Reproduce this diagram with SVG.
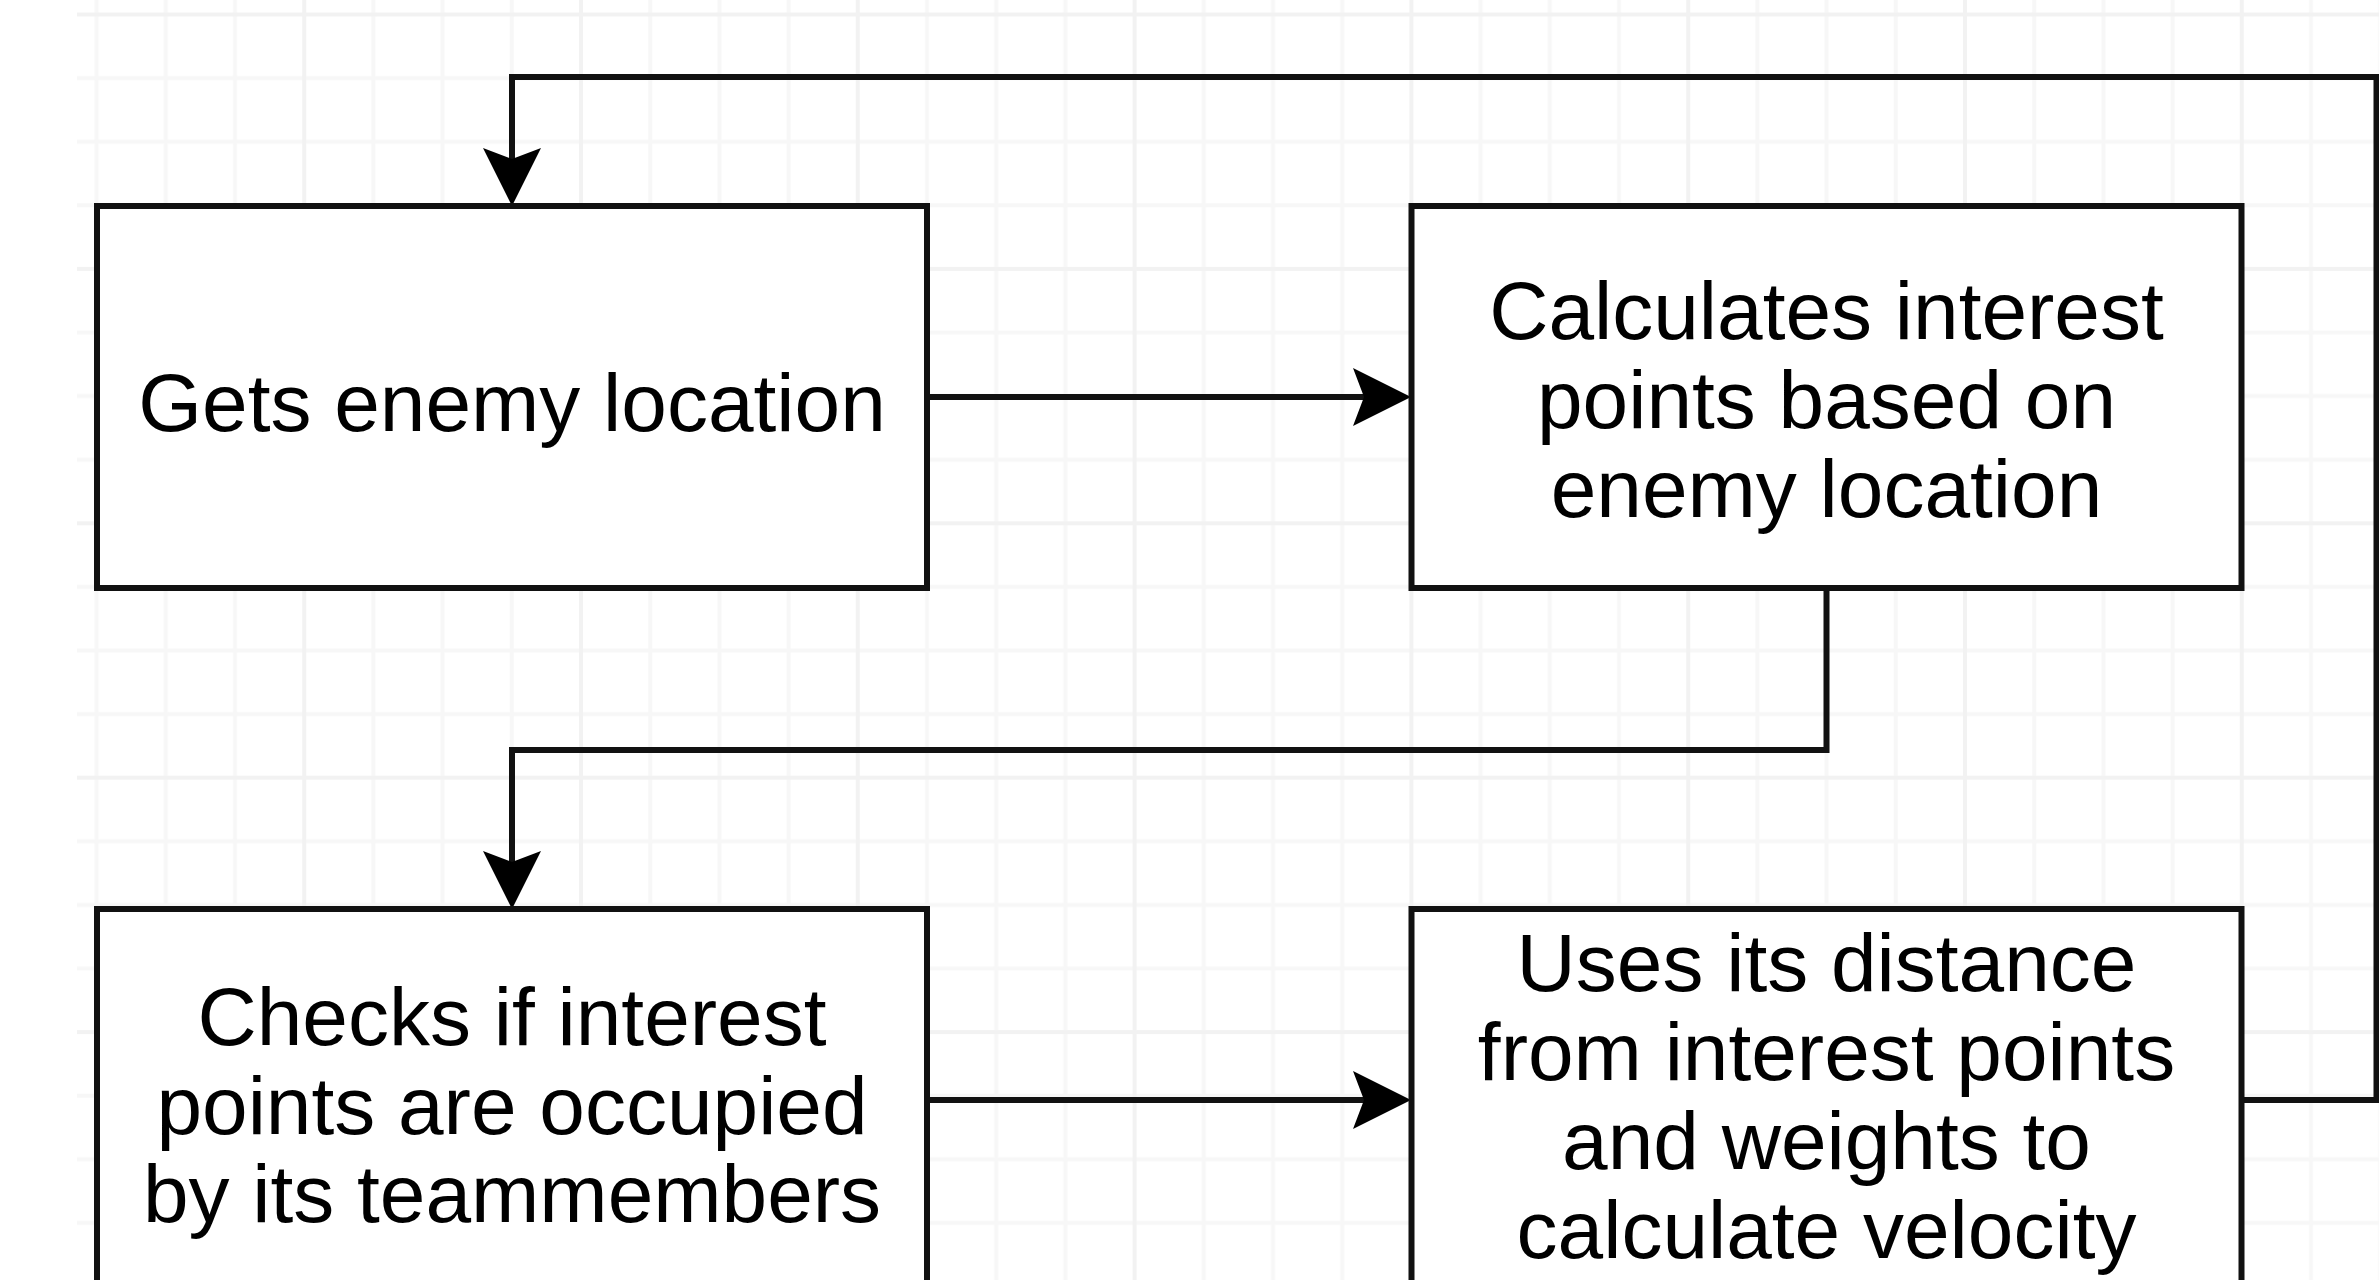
<svg xmlns="http://www.w3.org/2000/svg" width="2379" height="1280" viewBox="0 0 2379 1280">
  <style>
    .node rect { fill: #ffffff; stroke: #111111; stroke-width: 6; }
    .node text { font-family: "Liberation Sans", Arial, sans-serif; font-size: 82px; fill: #000000; text-anchor: middle; }
    .edge { fill: none; stroke: #111111; stroke-width: 6; stroke-linejoin: miter; }
  </style>
  <defs>
    <marker id="arrow" markerUnits="userSpaceOnUse" viewBox="0 -30 60 60" markerWidth="60" markerHeight="60" refX="11" refY="0" orient="auto">
      <path d="M0,-29 L58,0 L0,29 L11,0 Z" fill="#000000"/>
    </marker>
    <pattern id="grid" patternUnits="userSpaceOnUse" x="27.4" y="14.5" width="276.8" height="254.4">
      <g stroke="#f7f7f7" stroke-width="4">
        <line x1="69.2" y1="0" x2="69.2" y2="254.4"/>
        <line x1="138.4" y1="0" x2="138.4" y2="254.4"/>
        <line x1="207.6" y1="0" x2="207.6" y2="254.4"/>
        <line x1="0" y1="63.6" x2="276.8" y2="63.6"/>
        <line x1="0" y1="127.2" x2="276.8" y2="127.2"/>
        <line x1="0" y1="190.8" x2="276.8" y2="190.8"/>
      </g>
      <g stroke="#f2f2f2" stroke-width="4">
        <line x1="0" y1="0" x2="0" y2="254.4"/>
        <line x1="276.8" y1="0" x2="276.8" y2="254.4"/>
        <line x1="0" y1="0" x2="276.8" y2="0"/>
        <line x1="0" y1="254.4" x2="276.8" y2="254.4"/>
      </g>
    </pattern>
  </defs>

  <rect x="0" y="0" width="2379" height="1280" fill="#ffffff"/>
  <rect x="77" y="0" width="2302" height="1280" fill="url(#grid)"/>

  <g id="connectors">
    <path class="edge" d="M2241.5,1100 L2376.5,1100 L2376.5,77 L512,77 L512,159" marker-end="url(#arrow)"/>
    <path class="edge" d="M927,397 L1364,397" marker-end="url(#arrow)"/>
    <path class="edge" d="M1826.5,588 L1826.5,750 L512,750 L512,862" marker-end="url(#arrow)"/>
    <path class="edge" d="M927,1100 L1364,1100" marker-end="url(#arrow)"/>
  </g>

  <g id="node-gets-enemy-location" class="node">
    <rect x="97" y="206" width="830" height="382"/>
    <text x="512" y="431">Gets enemy location</text>
  </g>

  <g id="node-calculates-interest-points" class="node">
    <rect x="1411.5" y="206" width="830" height="382"/>
    <text x="1826.5" y="339">Calculates interest</text>
    <text x="1826.5" y="428">points based on</text>
    <text x="1826.5" y="517">enemy location</text>
  </g>

  <g id="node-checks-interest-points" class="node">
    <rect x="97" y="909" width="830" height="382"/>
    <text x="512" y="1045">Checks if interest</text>
    <text x="512" y="1133.5">points are occupied</text>
    <text x="512" y="1222">by its teammembers</text>
  </g>

  <g id="node-uses-distance" class="node">
    <rect x="1411.5" y="909" width="830" height="382"/>
    <text x="1826.5" y="991">Uses its distance</text>
    <text x="1826.5" y="1080">from interest points</text>
    <text x="1826.5" y="1169">and weights to</text>
    <text x="1826.5" y="1258">calculate velocity</text>
  </g>
</svg>
